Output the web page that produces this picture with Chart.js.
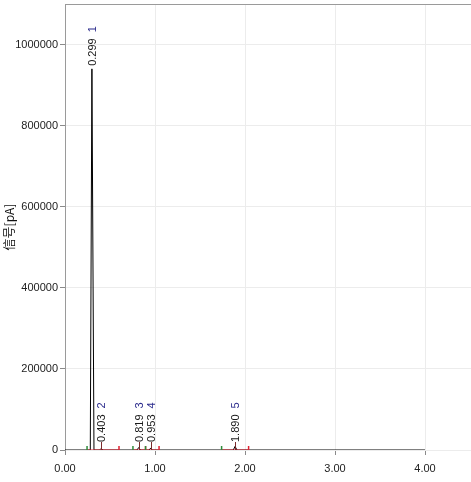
<!DOCTYPE html>
<html>
<head>
<meta charset="utf-8">
<script src="https://cdn.jsdelivr.net/npm/chart.js@4"></script>
<style>
  html, body { margin: 0; padding: 0; background: #fff; }
  #wrap { width: 471px; height: 482px; }
</style>
</head>
<body>
<div id="wrap"><canvas id="chromChart" width="471" height="482"></canvas></div>
<script>
// trace of the chromatogram (retention time [min] vs signal [pA])
const times  = [0, 0.245, 0.281, 0.299, 0.322, 0.385, 0.403, 0.42, 0.80, 0.819, 0.84, 0.935, 0.953, 0.97, 1.87, 1.890, 1.91, 4.00];
const signal = [0, 0, 0, 940000, 0, 0, 4000, 0, 0, 6000, 0, 0, 5000, 0, 0, 9000, 0, 0];

// integrated peaks
const peakNo     = ['1', '2', '3', '4', '5'];
const peakTime   = [0.299, 0.403, 0.819, 0.953, 1.890];
const peakHeight = [940000, 4000, 6000, 5000, 9000];
const startTimes = [0.245, 0.755, 0.895, 1.74];
const endTimes   = [0.60, 0.895, 1.045, 2.04];

const xTicks = [0, 1, 2, 3, 4];
const yTicks = [0, 200000, 400000, 600000, 800000, 1000000];

const FONT = 'Liberation Sans';

const trace = times.map((t, i) => ({x: t, y: signal[i]}));
const baseSeg = [];
startTimes.forEach((s, i) => {
    baseSeg.push({x: s, y: 0}, {x: endTimes[i], y: 0}, {x: endTimes[i], y: null});
});

const peakLabels = {
    id: 'peakLabels',
    afterDatasetsDraw(chart) {
        const {ctx, scales: {x, y}} = chart;
        const base = y.getPixelForValue(0);
        ctx.save();
        ctx.font = '11px "' + FONT + '"';
        ctx.textBaseline = 'middle';
        ctx.textAlign = 'left';
        peakTime.forEach((t, i) => {
            const px = Math.round(x.getPixelForValue(t)) + 0.5;
            const py = y.getPixelForValue(peakHeight[i]);
            const bottom = Math.min(py - 3, base - 8);
            if (py - bottom > 4) {
                ctx.strokeStyle = '#7a2a2a';
                ctx.lineWidth = 1;
                ctx.beginPath();
                ctx.moveTo(px, base);
                ctx.lineTo(px, bottom);
                ctx.stroke();
            }
            const txt = t.toFixed(3);
            ctx.save();
            ctx.translate(px, bottom);
            ctx.rotate(-Math.PI / 2);
            ctx.fillStyle = '#1a1a1a';
            ctx.fillText(txt, 0, 0);
            const w = ctx.measureText(txt).width;
            ctx.fillStyle = '#2b2b8c';
            ctx.fillText(peakNo[i], w + 6, 0);
            ctx.restore();
        });
        // frame: top line
        const a = chart.chartArea;
        ctx.strokeStyle = '#9a9a9a';
        ctx.beginPath();
        ctx.moveTo(a.left, a.top + 0.5);
        ctx.lineTo(a.right, a.top + 0.5);
        ctx.stroke();
        ctx.restore();
    }
};

new Chart(document.getElementById('chromChart').getContext('2d'), {
    type: 'line',
    data: {
        datasets: [
            {
                data: trace,
                borderColor: '#000',
                borderWidth: 1,
                pointRadius: 0,
                tension: 0,
                order: 4
            },
            {
                data: baseSeg,
                borderColor: '#e02030',
                borderWidth: 1,
                pointRadius: 0,
                spanGaps: false,
                order: 3
            },
            {
                data: startTimes.map(t => ({x: t, y: 0})),
                showLine: false,
                pointStyle: 'line',
                rotation: 90,
                pointRadius: 4,
                pointBorderWidth: 1.5,
                pointBorderColor: '#2e8b3a',
                order: 1
            },
            {
                data: endTimes.map(t => ({x: t, y: 0})),
                showLine: false,
                pointStyle: 'line',
                rotation: 90,
                pointRadius: 4,
                pointBorderWidth: 1.5,
                pointBorderColor: '#e02030',
                order: 2
            }
        ]
    },
    options: {
        responsive: false,
        animation: false,
        layout: { autoPadding: false, padding: { top: 4, right: 0, bottom: 0, left: 0 } },
        plugins: { legend: { display: false }, tooltip: { enabled: false } },
        scales: {
            x: {
                type: 'linear',
                min: 0,
                max: 4.511,
                afterFit: s => { s.height = 32; s.paddingRight = 0; s.paddingLeft = 0; },
                afterBuildTicks: s => { s.ticks = xTicks.map(v => ({value: v})); },
                ticks: {
                    color: '#222',
                    font: { family: FONT, size: 11 },
                    padding: 7,
                    maxRotation: 0,
                    callback: v => Number(v).toFixed(2)
                },
                grid: { color: '#ececec', tickColor: '#8a8a8a', tickLength: 5 },
                border: { display: false }
            },
            y: {
                min: 0,
                max: 1100000,
                afterFit: s => { s.width = 65; s.paddingTop = 0; s.paddingBottom = 0; },
                afterBuildTicks: s => { s.ticks = yTicks.map(v => ({value: v})); },
                ticks: {
                    color: '#222',
                    font: { family: FONT, size: 11 },
                    padding: 2,
                    callback: v => String(v)
                },
                grid: { color: '#ececec', tickColor: '#8a8a8a', tickLength: 5 },
                border: { color: '#9a9a9a' },
                title: {
                    display: true,
                    text: '信号[pA]',
                    color: '#111',
                    font: { family: 'Noto Sans CJK SC', size: 12 },
                    padding: { top: 2, bottom: 0 }
                }
            }
        }
    },
    plugins: [peakLabels]
});
</script>
</body>
</html>
